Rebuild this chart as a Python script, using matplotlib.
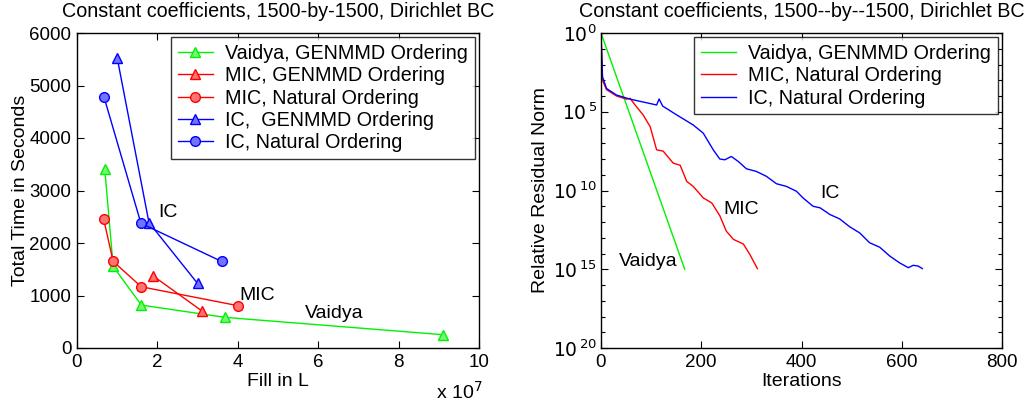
import numpy as np
import matplotlib
matplotlib.use("Agg")
import matplotlib.pyplot as plt
from matplotlib.ticker import FixedLocator

plt.rcParams['font.family'] = ['Liberation Sans', 'DejaVu Sans']

# ---------------- Left panel data (fill in units of 1e7, seconds) ----------------
vaidya_fill = [0.69, 0.90, 1.60, 3.69, 9.11]
vaidya_time = [3416, 1553, 817, 583, 253]
mic_gen_fill = [1.90, 3.10]
mic_gen_time = [1369, 710]
mic_nat_fill = [0.66, 0.90, 1.60, 4.01]
mic_nat_time = [2465, 1648, 1166, 805]
ic_gen_fill = [1.00, 1.79, 3.00]
ic_gen_time = [5526, 2389, 1229]
ic_nat_fill = [0.67, 1.59, 3.60]
ic_nat_time = [4785, 2376, 1648]

left_labels = ["Vaidya, GENMMD Ordering", "MIC, GENMMD Ordering",
               "MIC, Natural Ordering", "IC,  GENMMD Ordering",
               "IC, Natural Ordering"]
left_xticks = [0, 2, 4, 6, 8, 10]
left_yticks = [0, 1000, 2000, 3000, 4000, 5000, 6000]

# ---------------- Right panel data (iterations, -log10 residual) ----------------
vaidya_it = [0, 167]
vaidya_exp = [0, 15.0]
mic_it = [0, 3, 11, 31, 51, 58, 68, 84, 98, 111, 124, 144, 158, 171, 184, 204,
          221, 237, 250, 264, 284, 297, 312]
mic_exp = [0, 3.0, 3.6, 4.0, 4.2, 4.15, 4.57, 5.2, 5.94, 7.42, 7.5, 8.26, 8.4,
           9.42, 9.74, 10.47, 10.79, 11.6, 12.58, 13.1, 13.4, 14.06, 14.96]
ic_it = [0, 3, 11, 31, 58, 91, 111, 116, 123, 151, 184, 204, 224, 237, 247, 260,
         274, 290, 310, 330, 350, 370, 390, 403, 423, 437, 457, 476, 496, 516,
         536, 556, 576, 596, 613, 623, 633, 641]
ic_exp = [0, 2.78, 3.52, 3.94, 4.2, 4.43, 4.57, 4.19, 4.64, 5.2, 5.84, 6.36,
          7.42, 8.0, 8.05, 7.84, 8.16, 8.62, 8.79, 9.1, 9.57, 9.74, 10.05, 10.47,
          11.0, 11.1, 11.53, 11.8, 12.3, 12.69, 13.32, 13.6, 14.16, 14.6, 14.9,
          14.75, 14.8, 14.96]
right_labels = ["Vaidya, GENMMD Ordering", "MIC, Natural Ordering",
                "IC, Natural Ordering"]
right_xticks = [0, 200, 400, 600, 800]
right_yexp = [0, 5, 10, 15, 20]

GREEN = (0.0, 0.95, 0.0)
RED = (1.0, 0.0, 0.0)
BLUE = (0.0, 0.0, 1.0)

def light(c, a=0.55):
    return tuple(1 - a * (1 - v) for v in c)

FS = 14
TFS = 14.2
LFS = 14.2
TKS = 13.5

fig = plt.figure(figsize=(10.28, 4.04), dpi=100)
ax1 = fig.add_axes([77 / 1028, 1 - 348 / 404, 402 / 1028, 315 / 404])
ax2 = fig.add_axes([601 / 1028, 1 - 348 / 404, 401 / 1028, 315 / 404])

lw = 1.0
ms = 7
ax1.plot(vaidya_fill, vaidya_time, '-^', color=GREEN, lw=lw, ms=ms,
         mfc=light(GREEN), mec=GREEN, label=left_labels[0])
ax1.plot(mic_gen_fill, mic_gen_time, '-^', color=RED, lw=lw, ms=ms,
         mfc=light(RED), mec=RED, label=left_labels[1])
ax1.plot(mic_nat_fill, mic_nat_time, '-o', color=RED, lw=lw, ms=ms,
         mfc=light(RED), mec=RED, label=left_labels[2])
ax1.plot(ic_gen_fill, ic_gen_time, '-^', color=BLUE, lw=lw, ms=ms,
         mfc=light(BLUE), mec=BLUE, label=left_labels[3])
ax1.plot(ic_nat_fill, ic_nat_time, '-o', color=BLUE, lw=lw, ms=ms,
         mfc=light(BLUE), mec=BLUE, label=left_labels[4])
ax1.set_xlim(0, 10)
ax1.set_ylim(0, 6000)
ax1.set_xticks(left_xticks)
ax1.set_yticks(left_yticks)
ax1.set_xticklabels([str(v) for v in left_xticks])
ax1.set_yticklabels([str(v) for v in left_yticks])
ax1.set_xlabel("Fill in L", fontsize=FS)
ax1.set_ylabel("Total Time in Seconds", fontsize=FS)
ax1.xaxis.set_label_coords(0.5, -0.08)
ax1.yaxis.set_label_coords(-0.119, 0.5)
ax1.set_title("Constant coefficients, 1500-by-1500, Dirichlet BC", fontsize=TFS, pad=11.5)
ax1.text(2.03, 2579, "IC", fontsize=FS, va='center', ha='left')
ax1.text(4.05, 1008, "MIC", fontsize=FS, va='center', ha='left')
ax1.text(5.67, 659, "Vaidya", fontsize=FS, va='center', ha='left')
ax1.text(0.893, -0.14, r"x 10$^{7}$", transform=ax1.transAxes, fontsize=FS,
         ha='left', va='center')
leg1 = ax1.legend(loc='upper right', fontsize=LFS, frameon=True, fancybox=False,
                  edgecolor='black', borderpad=0.35, labelspacing=0.16,
                  handlelength=1.8, handletextpad=0.6, borderaxespad=0.22)
leg1.get_frame().set_linewidth(1.0)

ax2.plot(vaidya_it, 10.0 ** (-np.array(vaidya_exp)), color=GREEN, lw=lw,
         label=right_labels[0])
ax2.plot(mic_it, 10.0 ** (-np.array(mic_exp)), color=RED, lw=lw,
         label=right_labels[1])
ax2.plot(ic_it, 10.0 ** (-np.array(ic_exp)), color=BLUE, lw=lw,
         label=right_labels[2])
ax2.set_yscale('log')
ax2.set_xlim(0, 800)
ax2.set_ylim(1e-20, 1)
ax2.set_xticks(right_xticks)
ax2.set_xticklabels([str(v) for v in right_xticks])
ax2.yaxis.set_major_locator(FixedLocator([10.0 ** (-e) for e in right_yexp]))
ax2.set_yticklabels([r"$10^{%d}$" % e if e == 0 else r"$10^{\,%d}$" % e
                     for e in right_yexp])
ax2.yaxis.set_minor_locator(FixedLocator([10.0 ** (-e) for e in range(21)
                                          if e % 5 != 0]))
ax2.yaxis.set_minor_formatter(plt.NullFormatter())
ax2.set_xlabel("Iterations", fontsize=FS)
ax2.set_ylabel("Relative Residual Norm", fontsize=FS)
ax2.xaxis.set_label_coords(0.5, -0.08)
ax2.yaxis.set_label_coords(-0.13, 0.5)
ax2.set_title("Constant coefficients, 1500--by--1500, Dirichlet BC", fontsize=TFS, pad=11.5)
ax2.text(36, 10.0 ** (-14.5), "Vaidya", fontsize=FS, va='center', ha='left')
ax2.text(245, 10.0 ** (-11.2), "MIC", fontsize=FS, va='center', ha='left')
ax2.text(437, 10.0 ** (-10.16), "IC", fontsize=FS, va='center', ha='left')
leg2 = ax2.legend(loc='upper right', fontsize=LFS, frameon=True, fancybox=False,
                  edgecolor='black', borderpad=0.35, labelspacing=0.16,
                  handlelength=1.8, handletextpad=0.6, borderaxespad=0.22)
leg2.get_frame().set_linewidth(1.0)

for ax in (ax1, ax2):
    ax.tick_params(which='both', direction='in', top=True, right=True,
                   labelsize=TKS, pad=4)
    ax.tick_params(which='major', length=5, width=0.8)
    ax.tick_params(which='minor', length=3, width=0.8)
    for s in ax.spines.values():
        s.set_linewidth(1.0)
ax2.tick_params(axis='y', pad=3)

fig.savefig("out.png", dpi=100)
